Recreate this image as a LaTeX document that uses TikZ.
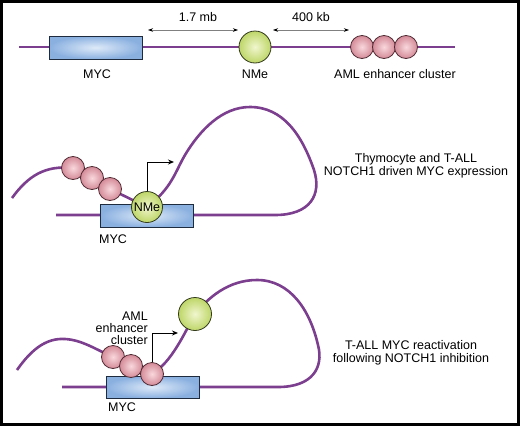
\documentclass[tikz,border=0pt]{standalone}
\usepackage{fontspec}
\setmainfont{Liberation Sans}
\usepackage{tikz}
\usetikzlibrary{arrows.meta, positioning, calc, backgrounds}

\definecolor{dnapurple}{RGB}{124,62,142}
\definecolor{geneblue}{RGB}{138,176,224}
\definecolor{genelight}{RGB}{222,234,248}
\definecolor{geneedge}{RGB}{30,42,62}
\definecolor{nmegreen}{RGB}{190,214,104}
\definecolor{nmelight}{RGB}{240,246,206}
\definecolor{nmeedge}{RGB}{50,58,28}
\definecolor{amlpink}{RGB}{212,138,152}
\definecolor{amllight}{RGB}{248,216,220}
\definecolor{amledge}{RGB}{82,44,52}

\begin{document}
\begin{tikzpicture}[
  x=1pt, y=-1pt,
  dna/.style   = {draw=dnapurple, line width=2.6pt},
  gene/.style  = {draw=geneedge, line width=0.8pt, shading=radial, inner color=genelight,
                  outer color=geneblue, minimum width=93pt, minimum height=23pt, inner sep=0pt},
  nme/.style   = {circle, draw=nmeedge, line width=0.8pt, shading=radial, inner color=nmelight,
                  outer color=nmegreen, minimum size=32pt, inner sep=0pt},
  enh/.style   = {circle, draw=amledge, line width=0.8pt, shading=radial, inner color=amllight,
                  outer color=amlpink, minimum size=23pt, inner sep=0pt},
  lbl/.style   = {font=\fontsize{12.5}{13.5}\selectfont, inner sep=0pt},
  span/.style  = {draw=gray, line width=0.6pt, {Stealth[length=5pt,width=3.5pt,color=black]}-{Stealth[length=5pt,width=3.5pt,color=black]}},
  tss/.style   = {line width=1pt, -{Stealth[length=6pt,width=5pt]}}
]

  \useasboundingbox (0,0) rectangle (520,426);

  % frame
  \draw[line width=2.6pt] (1.3,1.3) rectangle (518.7,424.7);

  % ---------- linear locus ----------
  \node[gene] (myc1) at (95.5,47.5) {};
  \node[nme] (nme1) at (255,47) {};
  \node[enh] (aml1a) at (362,47) {};
  \node[enh] (aml1b) at (384,47) {};
  \node[enh] (aml1c) at (406,47) {};

  \node[lbl] (myc1lbl) at (97,74) {MYC};
  \node[lbl] (nme1lbl) at (255,74) {NMe};
  \node[lbl] (aml1lbl) at (395,74) {AML enhancer cluster};

  % distances
  \node[lbl] (dist1lbl) at (198,17) {1.7 mb};
  \node[lbl] (dist2lbl) at (311,17) {400 kb};
  \coordinate (dist1a) at (148,30);
  \coordinate (dist1b) at (238,30);
  \coordinate (dist2a) at (273,30);
  \coordinate (dist2b) at (349,30);
  \draw[span] (dist1a) -- (dist1b);
  \draw[span] (dist2a) -- (dist2b);

  % ---------- NOTCH1 driven loop ----------
  \node[gene] (myc2) at (147,215.5) {};
  \node[enh] (aml2a) at (73,168) {};
  \node[enh] (aml2b) at (92,178) {};
  \node[enh] (aml2c) at (110,189) {};
  \node[nme, minimum size=31pt] (nme2) at (147,207) {};
  \node[lbl] (nme2lbl) at (nme2) {NMe};
  \node[lbl] (myc2lbl) at (113,239) {MYC};

  \coordinate (tss2) at (174,162);
  \draw[tss] (nme2.north) |- (tss2);

  \node[lbl, align=center] (notchlbl) at (416,166)
    {Thymocyte and T-ALL\\NOTCH1 driven MYC expression};

  % ---------- reactivation loop ----------
  \node[gene, minimum height=22pt] (myc3) at (152.5,387) {};
  \node[enh] (aml3a) at (113,357) {};
  \node[enh] (aml3b) at (131,366) {};
  \node[enh] (aml3c) at (152,374) {};
  \node[nme, minimum size=33pt] (nme3) at (195,314) {};
  \node[lbl] (myc3lbl) at (122,407) {MYC};

  \coordinate (tss3) at (178,333);
  \draw[tss] (aml3c.north) |- (tss3);

  \node[lbl, align=right, anchor=east, font=\fontsize{12.5}{12}\selectfont] (aml3lbl) at (148,328)
    {AML\\enhancer\\cluster};

  \node[lbl, align=center] (reactlbl) at (411,353)
    {T-ALL MYC reactivation\\following NOTCH1 inhibition};

  % chromatin fibres behind the elements
  \begin{scope}[on background layer]
    \draw[dna] (19,47) -- (455,47);

    \draw[dna] (56,215) -- (275,215)
      .. controls (310,215) and (322,195) .. (314,170)
      .. controls (302,135) and (283,107) .. (250,107)
      .. controls (222,107) and (200,130) .. (185,155)
      .. controls (175,172) and (172,188) .. (nme2.center);
    \draw[dna] (12,198) .. controls (28,176) and (45,165) .. (aml2a.center)
      -- (aml2b.center) -- (aml2c.center) -- (nme2.center);

    \draw[dna] (62,387) -- (278,387)
      .. controls (312,387) and (324,368) .. (318,345)
      .. controls (310,310) and (290,280) .. (257,280)
      .. controls (228,280) and (208,298) .. (nme3.center)
      .. controls (185,332) and (172,362) .. (aml3c.center);
    \draw[dna] (17,370) .. controls (33,347) and (48,338) .. (65,339)
      .. controls (82,340) and (95,349) .. (aml3a.center)
      -- (aml3b.center) -- (aml3c.center);
  \end{scope}

\end{tikzpicture}
\end{document}
